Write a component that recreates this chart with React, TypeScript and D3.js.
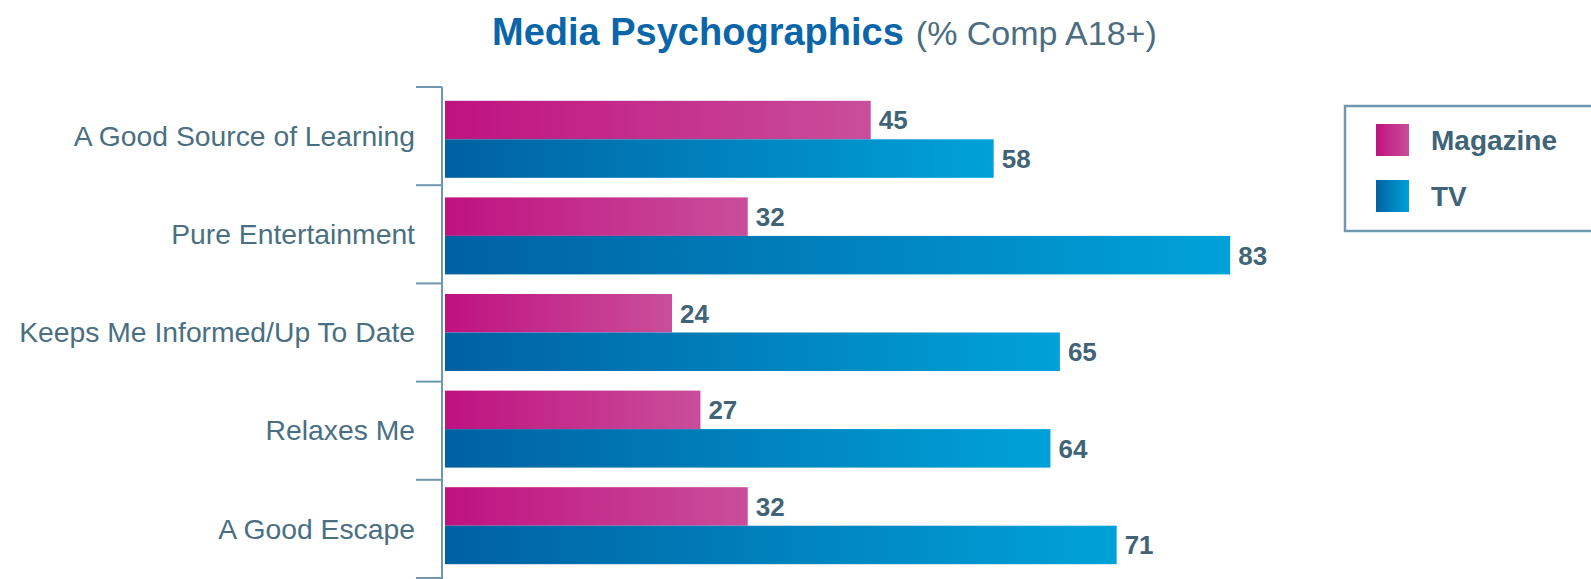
import * as d3 from 'd3';
import React from 'react';

const width = 1591;
const height = 579;
const margin = { top: 87, bottom: 1, left: 442 };

const categories = [
  'A Good Source of Learning',
  'Pure Entertainment',
  'Keeps Me Informed/Up To Date',
  'Relaxes Me',
  'A Good Escape'
];
const magazine = [45, 32, 24, 27, 32];
const tv = [58, 83, 65, 64, 71];
const seriesNames = ['Magazine', 'TV'];

const textColor = '#3f6478';
const axisColor = '#6f98ae';
const titleBlue = '#0a66a8';
const gradients = [
  { id: 'magGrad', from: '#bf1280', to: '#c94e9a' },
  { id: 'tvGrad', from: '#0061a1', to: '#00a2d9' }
];

const font = '"Liberation Sans", Arial, sans-serif';

export default function App() {
  // axis ticks sit on band edges
  const tickScale = d3
    .scaleBand()
    .domain(categories)
    .range([margin.top, height - margin.bottom]);
  // bar groups are a touch tighter than the ticks
  const y = d3.scaleBand().domain(categories).range([91, 574]);
  const x = d3.scaleLinear().domain([0, 100]).range([445, 1391]);
  const barH = 38.5;

  const rows = categories.map((c, i) => ({ c, vals: [magazine[i], tv[i]] }));
  const edges = categories.map(c => tickScale(c)).concat([height - margin.bottom]);

  return (
    <div style={{ position: 'absolute', left: 0, top: 0 }}>
      <svg width={width} height={height} style={{ display: 'block' }}>
        <defs>
          {gradients.map(g => (
            <linearGradient key={g.id} id={g.id} x1="0" x2="1" y1="0" y2="0">
              <stop offset="0" stopColor={g.from} />
              <stop offset="1" stopColor={g.to} />
            </linearGradient>
          ))}
        </defs>

        <text x={492} y={45} fontFamily={font}>
          <tspan fontSize={38} fontWeight="bold" fill={titleBlue}>
            Media Psychographics
          </tspan>
          <tspan fontSize={34} fill="#4b6d80" dx={12}>
            (% Comp A18+)
          </tspan>
        </text>

        {/* bars */}
        {rows.map(r => {
          const cy = y(r.c) + y.bandwidth() / 2;
          return (
            <g key={r.c}>
              {r.vals.map((v, k) => {
                const top = cy - barH + k * barH;
                return (
                  <g key={k}>
                    <rect
                      x={x(0)}
                      y={top}
                      width={x(v) - x(0)}
                      height={barH}
                      fill={`url(#${gradients[k].id})`}
                    />
                    <text
                      x={x(v) + 8}
                      y={top + barH / 2}
                      dy="0.36em"
                      fontFamily={font}
                      fontSize={26}
                      fontWeight="bold"
                      fill={textColor}
                    >
                      {v}
                    </text>
                  </g>
                );
              })}
              <text
                x={415}
                y={tickScale(r.c) + tickScale.bandwidth() / 2}
                dy="0.34em"
                textAnchor="end"
                fontFamily={font}
                fontSize={28.3}
                fill="#4a6f82"
              >
                {r.c}
              </text>
            </g>
          );
        })}

        {/* axis */}
        <line
          x1={margin.left}
          x2={margin.left}
          y1={margin.top}
          y2={height}
          stroke={axisColor}
          strokeWidth={2}
        />
        {edges.map((e, i) => (
          <line
            key={i}
            x1={416}
            x2={margin.left}
            y1={e}
            y2={e}
            stroke={axisColor}
            strokeWidth={2}
          />
        ))}

        {/* legend */}
        <rect
          x={1345}
          y={106}
          width={270}
          height={125}
          fill="none"
          stroke={axisColor}
          strokeWidth={2.5}
        />
        {seriesNames.map((s, i) => (
          <g key={s} transform={`translate(1376, ${124 + i * 56})`}>
            <rect width={33} height={32} fill={`url(#${gradients[i].id})`} />
            <text
              x={55}
              y={16}
              dy="0.36em"
              fontFamily={font}
              fontSize={28}
              fontWeight="bold"
              fill={textColor}
            >
              {s}
            </text>
          </g>
        ))}
      </svg>
    </div>
  );
}
